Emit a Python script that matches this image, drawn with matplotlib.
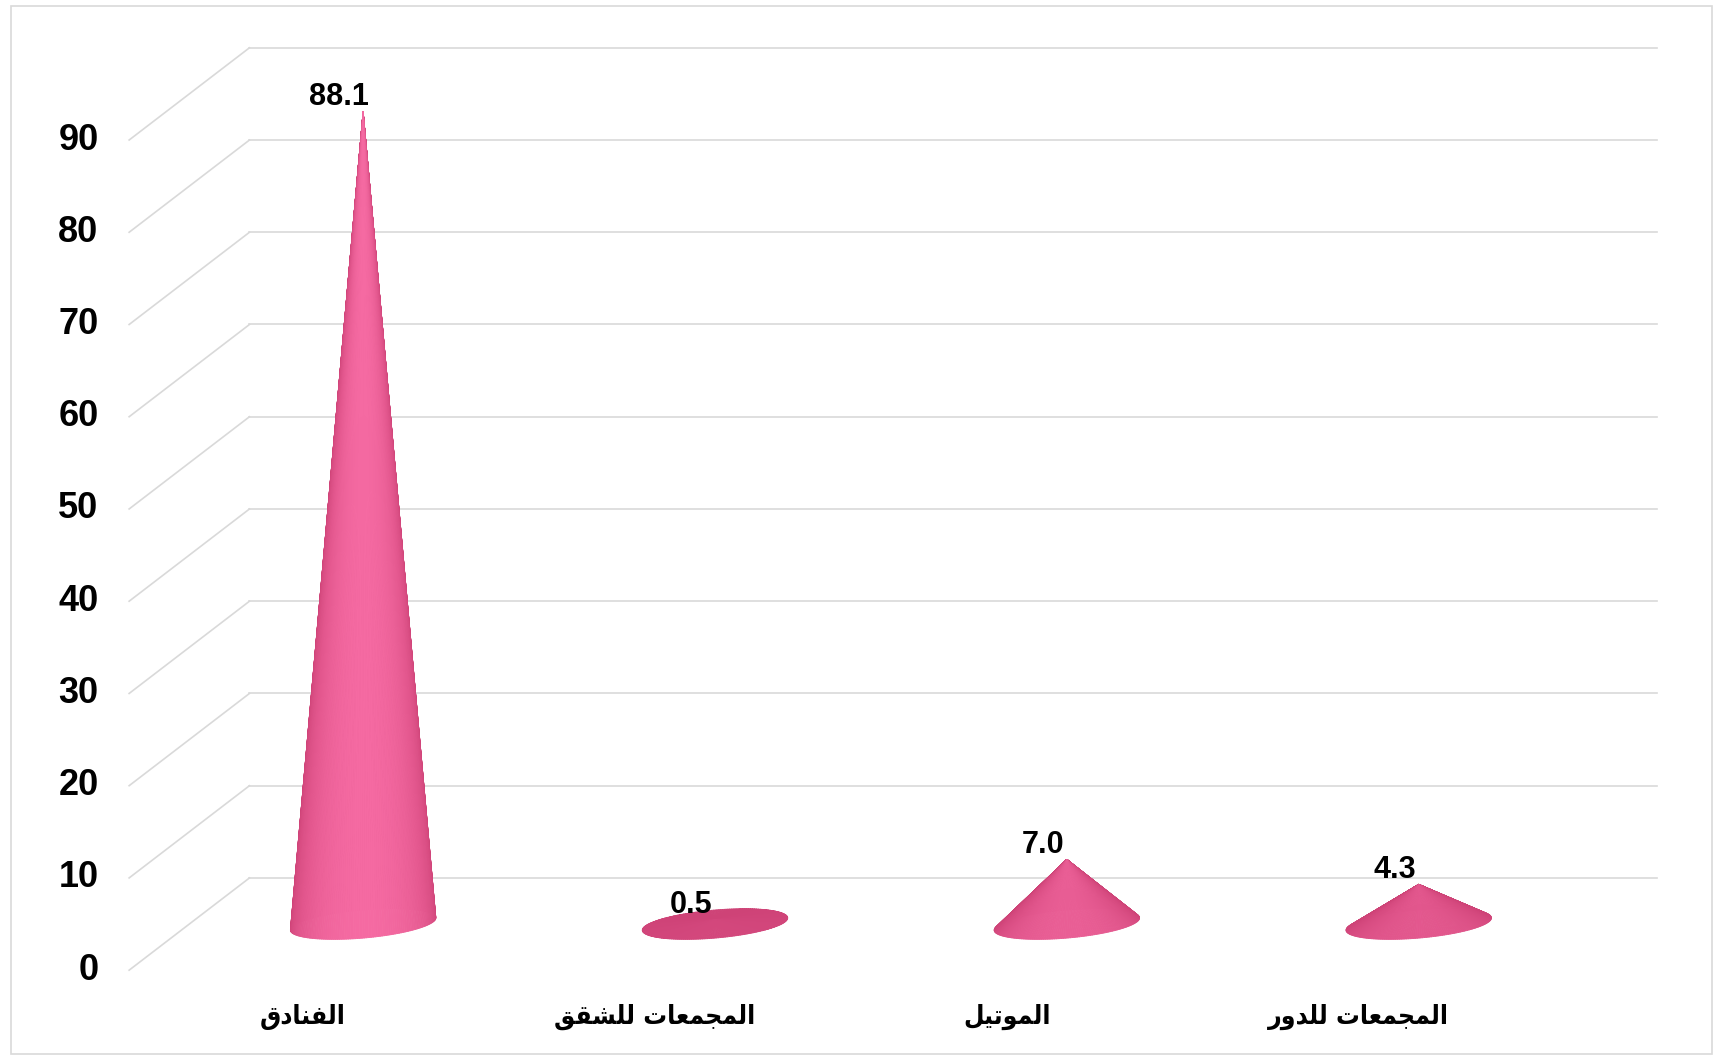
import numpy as np
import matplotlib.pyplot as plt
from matplotlib.collections import PolyCollection
from matplotlib.patches import Rectangle
from matplotlib.colors import to_rgb

# data
categories = ["الفنادق", "المجمعات للشقق", "الموتيل", "المجمعات للدور"]
values = [88.1, 0.5, 7.0, 4.3]
y_ticks = [0, 10, 20, 30, 40, 50, 60, 70, 80, 90]

# arabic shaping (matplotlib has no RTL / joining support)
FORMS = {
    "\u0627": ("\uFE8D", "\uFE8E", None, None),
    "\u062F": ("\uFEA9", "\uFEAA", None, None),
    "\u0631": ("\uFEAD", "\uFEAE", None, None),
    "\u0648": ("\uFEED", "\uFEEE", None, None),
    "\u0644": ("\uFEDD", "\uFEDE", "\uFEDF", "\uFEE0"),
    "\u0641": ("\uFED1", "\uFED2", "\uFED3", "\uFED4"),
    "\u0646": ("\uFEE5", "\uFEE6", "\uFEE7", "\uFEE8"),
    "\u0642": ("\uFED5", "\uFED6", "\uFED7", "\uFED8"),
    "\u0645": ("\uFEE1", "\uFEE2", "\uFEE3", "\uFEE4"),
    "\u062C": ("\uFE9D", "\uFE9E", "\uFE9F", "\uFEA0"),
    "\u0639": ("\uFEC9", "\uFECA", "\uFECB", "\uFECC"),
    "\u062A": ("\uFE95", "\uFE96", "\uFE97", "\uFE98"),
    "\u0634": ("\uFEB5", "\uFEB6", "\uFEB7", "\uFEB8"),
    "\u064A": ("\uFEF1", "\uFEF2", "\uFEF3", "\uFEF4"),
}


def shape(s):
    out = []
    for i, c in enumerate(s):
        if c not in FORMS:
            out.append(c)
            continue
        iso, fin, ini, med = FORMS[c]
        prev = s[i - 1] if i > 0 else None
        nxt = s[i + 1] if i + 1 < len(s) else None
        jp = prev in FORMS and FORMS[prev][2] is not None
        jn = nxt in FORMS and ini is not None
        if jp and jn:
            out.append(med)
        elif jp:
            out.append(fin)
        elif jn:
            out.append(ini)
        else:
            out.append(iso)
    return "".join(reversed(out))


# geometry (x: category units, y: value units)
PX_X = 351.9          # pixels per category
PX_Y = 9.224          # pixels per value unit
DEPTH_X, DEPTH_Y = 0.342, 10.0
FRONT_X = -0.665
BACK_RIGHT = 3.677
BASE_Y = DEPTH_Y / 2

fig = plt.figure(figsize=(17.15, 10.59), dpi=100)
ax = fig.add_axes([0, 0, 1, 1])
ax.set_xlim(-1.032, 3.842)
ax.set_ylim(-9.63, 105.18)
ax.axis("off")

fig.patches.append(Rectangle((11 / 1715, 5 / 1059), 1701 / 1715, 1048 / 1059,
                             transform=fig.transFigure, fill=False,
                             edgecolor="#D9D9D9", lw=1.2))

grid_c = "#D9D9D9"
for v in y_ticks:
    ax.plot([FRONT_X, FRONT_X + DEPTH_X], [v, v + DEPTH_Y], color=grid_c, lw=1.2, zorder=1)
    ax.plot([FRONT_X + DEPTH_X, BACK_RIGHT], [v + DEPTH_Y, v + DEPTH_Y], color=grid_c, lw=1.2, zorder=1)
    ax.text(FRONT_X - 0.087, v, str(v), ha="right", va="center", fontsize=26,
            fontweight="bold", family="Liberation Sans")

# cones
dark = np.array(to_rgb("#C63A6E"))
light = np.array(to_rgb("#F56AA2"))
L = np.array([0.0, -1.0, 0.05])
L = L / np.linalg.norm(L)
r_px, b_px, tilt = 73.0, 14.0, np.radians(5)
N = 200

for i, v in enumerate(values):
    h_px = v * PX_Y
    phi = np.linspace(0, 2 * np.pi, N + 1)
    ex = r_px * np.cos(phi) * np.cos(tilt) - b_px * np.sin(phi) * np.sin(tilt)
    ey = r_px * np.cos(phi) * np.sin(tilt) + b_px * np.sin(phi) * np.cos(tilt)
    px = i + ex / PX_X
    py = BASE_Y + ey / PX_Y
    apex = (i, BASE_Y + v)
    polys, cols, depth = [], [], []
    for k in range(N):
        pm = 0.5 * (phi[k] + phi[k + 1])
        n = np.array([h_px * np.cos(pm), h_px * np.sin(pm), r_px])
        n = n / np.linalg.norm(n)
        I = max(np.dot(n, L), 0)
        t = np.clip(0.18 + 0.82 * I, 0, 1)
        cols.append(dark + (light - dark) * t)
        polys.append([apex, (px[k], py[k]), (px[k + 1], py[k + 1])])
        depth.append(np.sin(pm))
    order = np.argsort(depth)[::-1]
    pc = PolyCollection([polys[j] for j in order],
                        facecolors=[cols[j] for j in order],
                        edgecolors=[cols[j] for j in order], linewidths=0.6, zorder=3)
    ax.add_collection(pc)
    ax.text(i - 0.068, BASE_Y + v + 0.7, f"{v:.1f}", ha="center", va="baseline",
            fontsize=22, fontweight="bold", family="Liberation Sans", zorder=5)

for i, c in enumerate(categories):
    ax.text(i - DEPTH_X / 2, -5.1, shape(c), ha="center", va="center",
            fontsize=19, fontweight="bold", fontstretch="condensed",
            family=["DejaVu Sans"])

fig.savefig("out.png", dpi=100)
